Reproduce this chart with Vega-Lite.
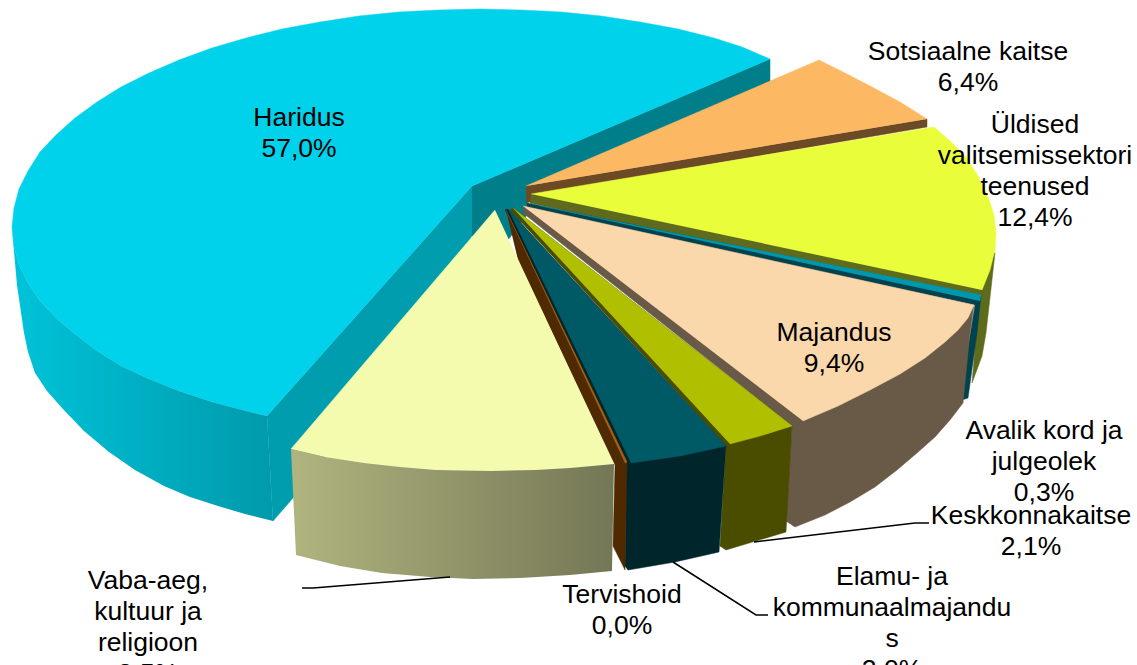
{
"$schema":"https://vega.github.io/schema/vega-lite/v6.json",
"width":1137,"height":665,"padding":0,
"autosize":{"type":"fit","contains":"padding"},
"background":"white",
"view":{"stroke":null},
"datasets":{
"shapes":[
{"part":"Haridus sisemine","seq":1,"x":472,"y":186},{"part":"Haridus sisemine","seq":2,"x":770,"y":59},{"part":"Haridus sisemine","seq":3,"x":770,"y":82},{"part":"Haridus sisemine","seq":4,"x":527,"y":186},{"part":"Haridus sisemine","seq":5,"x":527,"y":215},{"part":"Haridus sisemine","seq":6,"x":508,"y":240},{"part":"Haridus sisemine","seq":7,"x":472,"y":236},
{"part":"Haridus lõige","seq":1,"x":472,"y":186},{"part":"Haridus lõige","seq":2,"x":267,"y":416},{"part":"Haridus lõige","seq":3,"x":273,"y":521},{"part":"Haridus lõige","seq":4,"x":293,"y":498},{"part":"Haridus lõige","seq":5,"x":400,"y":360},{"part":"Haridus lõige","seq":6,"x":472,"y":236},
{"part":"Haridus","seq":1,"x":472,"y":186},{"part":"Haridus","seq":2,"x":770,"y":59},{"part":"Haridus","seq":3,"x":742,"y":47},{"part":"Haridus","seq":4,"x":714,"y":38},{"part":"Haridus","seq":5,"x":678,"y":29},{"part":"Haridus","seq":6,"x":640,"y":22},{"part":"Haridus","seq":7,"x":601,"y":16},{"part":"Haridus","seq":8,"x":561,"y":12},{"part":"Haridus","seq":9,"x":521,"y":10},{"part":"Haridus","seq":10,"x":480,"y":9},{"part":"Haridus","seq":11,"x":439,"y":10},{"part":"Haridus","seq":12,"x":399,"y":12},{"part":"Haridus","seq":13,"x":359,"y":16},{"part":"Haridus","seq":14,"x":320,"y":22},{"part":"Haridus","seq":15,"x":282,"y":29},{"part":"Haridus","seq":16,"x":246,"y":38},{"part":"Haridus","seq":17,"x":212,"y":48},{"part":"Haridus","seq":18,"x":179,"y":60},{"part":"Haridus","seq":19,"x":149,"y":73},{"part":"Haridus","seq":20,"x":121,"y":87},{"part":"Haridus","seq":21,"x":97,"y":102},{"part":"Haridus","seq":22,"x":75,"y":118},{"part":"Haridus","seq":23,"x":56,"y":135},{"part":"Haridus","seq":24,"x":40,"y":152},{"part":"Haridus","seq":25,"x":28,"y":171},{"part":"Haridus","seq":26,"x":19,"y":189},{"part":"Haridus","seq":27,"x":14,"y":208},{"part":"Haridus","seq":28,"x":12,"y":227},{"part":"Haridus","seq":29,"x":14,"y":246},{"part":"Haridus","seq":30,"x":19,"y":265},{"part":"Haridus","seq":31,"x":28,"y":283},{"part":"Haridus","seq":32,"x":40,"y":301},{"part":"Haridus","seq":33,"x":56,"y":318},{"part":"Haridus","seq":34,"x":75,"y":334},{"part":"Haridus","seq":35,"x":97,"y":351},{"part":"Haridus","seq":36,"x":121,"y":366},{"part":"Haridus","seq":37,"x":149,"y":379},{"part":"Haridus","seq":38,"x":179,"y":391},{"part":"Haridus","seq":39,"x":212,"y":402},{"part":"Haridus","seq":40,"x":246,"y":411},{"part":"Haridus","seq":41,"x":267,"y":416},
{"part":"Sotsiaalne külg","seq":1,"x":526,"y":186},{"part":"Sotsiaalne külg","seq":2,"x":927,"y":119},{"part":"Sotsiaalne külg","seq":3,"x":927,"y":127},{"part":"Sotsiaalne külg","seq":4,"x":600,"y":183},{"part":"Sotsiaalne külg","seq":5,"x":526,"y":203},
{"part":"Sotsiaalne","seq":1,"x":526,"y":186},{"part":"Sotsiaalne","seq":2,"x":819,"y":60},{"part":"Sotsiaalne","seq":3,"x":845,"y":73},{"part":"Sotsiaalne","seq":4,"x":872,"y":87},{"part":"Sotsiaalne","seq":5,"x":900,"y":102},{"part":"Sotsiaalne","seq":6,"x":927,"y":119},
{"part":"Üldised külg","seq":1,"x":531,"y":194},{"part":"Üldised külg","seq":2,"x":995,"y":253},{"part":"Üldised külg","seq":3,"x":986,"y":333},{"part":"Üldised külg","seq":4,"x":982,"y":356},{"part":"Üldised külg","seq":5,"x":972,"y":383},{"part":"Üldised külg","seq":6,"x":979,"y":300},{"part":"Üldised külg","seq":7,"x":530,"y":203},
{"part":"Üldised","seq":1,"x":531,"y":194},{"part":"Üldised","seq":2,"x":934,"y":127},{"part":"Üldised","seq":3,"x":950,"y":141},{"part":"Üldised","seq":4,"x":966,"y":157},{"part":"Üldised","seq":5,"x":978,"y":176},{"part":"Üldised","seq":6,"x":988,"y":197},{"part":"Üldised","seq":7,"x":994,"y":215},{"part":"Üldised","seq":8,"x":996,"y":233},{"part":"Üldised","seq":9,"x":995,"y":250},{"part":"Üldised","seq":10,"x":990,"y":270},{"part":"Üldised","seq":11,"x":982,"y":290},
{"part":"Avalik külg","seq":1,"x":527,"y":203},{"part":"Avalik külg","seq":2,"x":981,"y":296},{"part":"Avalik külg","seq":3,"x":977,"y":333},{"part":"Avalik külg","seq":4,"x":968,"y":398},{"part":"Avalik külg","seq":5,"x":962,"y":400},{"part":"Avalik külg","seq":6,"x":966,"y":360},{"part":"Avalik külg","seq":7,"x":975,"y":305},{"part":"Avalik külg","seq":8,"x":527,"y":209},
{"part":"Avalik","seq":1,"x":540,"y":206},{"part":"Avalik","seq":2,"x":981,"y":295},{"part":"Avalik","seq":3,"x":980,"y":301},
{"part":"Majandus külg","seq":1,"x":523,"y":206},{"part":"Majandus külg","seq":2,"x":974,"y":305},{"part":"Majandus külg","seq":3,"x":970,"y":333},{"part":"Majandus külg","seq":4,"x":963,"y":403},{"part":"Majandus külg","seq":5,"x":950,"y":420},{"part":"Majandus külg","seq":6,"x":935,"y":437},{"part":"Majandus külg","seq":7,"x":917,"y":453},{"part":"Majandus külg","seq":8,"x":897,"y":470},{"part":"Majandus külg","seq":9,"x":875,"y":487},{"part":"Majandus külg","seq":10,"x":850,"y":502},{"part":"Majandus külg","seq":11,"x":825,"y":515},{"part":"Majandus külg","seq":12,"x":795,"y":527},{"part":"Majandus külg","seq":13,"x":786,"y":521},{"part":"Majandus külg","seq":14,"x":792,"y":426},{"part":"Majandus külg","seq":15,"x":523,"y":213},
{"part":"Majandus","seq":1,"x":523,"y":206},{"part":"Majandus","seq":2,"x":974,"y":305},{"part":"Majandus","seq":3,"x":968,"y":318},{"part":"Majandus","seq":4,"x":958,"y":330},{"part":"Majandus","seq":5,"x":945,"y":342},{"part":"Majandus","seq":6,"x":925,"y":358},{"part":"Majandus","seq":7,"x":900,"y":374},{"part":"Majandus","seq":8,"x":870,"y":390},{"part":"Majandus","seq":9,"x":838,"y":406},{"part":"Majandus","seq":10,"x":803,"y":421},
{"part":"Keskkonna külg","seq":1,"x":510,"y":210},{"part":"Keskkonna külg","seq":2,"x":513,"y":208},{"part":"Keskkonna külg","seq":3,"x":792,"y":426},{"part":"Keskkonna külg","seq":4,"x":786,"y":532},{"part":"Keskkonna külg","seq":5,"x":726,"y":550},{"part":"Keskkonna külg","seq":6,"x":720,"y":546},{"part":"Keskkonna külg","seq":7,"x":726,"y":446},
{"part":"Keskkonna","seq":1,"x":513,"y":208},{"part":"Keskkonna","seq":2,"x":792,"y":426},{"part":"Keskkonna","seq":3,"x":760,"y":436},{"part":"Keskkonna","seq":4,"x":730,"y":444},
{"part":"Elamu külg","seq":1,"x":505,"y":210},{"part":"Elamu külg","seq":2,"x":508,"y":209},{"part":"Elamu külg","seq":3,"x":726,"y":446},{"part":"Elamu külg","seq":4,"x":719,"y":552},{"part":"Elamu külg","seq":5,"x":675,"y":562},{"part":"Elamu külg","seq":6,"x":628,"y":570},{"part":"Elamu külg","seq":7,"x":625,"y":566},{"part":"Elamu külg","seq":8,"x":626,"y":463},
{"part":"Elamu","seq":1,"x":508,"y":209},{"part":"Elamu","seq":2,"x":726,"y":446},{"part":"Elamu","seq":3,"x":680,"y":456},{"part":"Elamu","seq":4,"x":631,"y":463},
{"part":"Tervishoid","seq":1,"x":506,"y":210},{"part":"Tervishoid","seq":2,"x":627,"y":463},{"part":"Tervishoid","seq":3,"x":625,"y":570},{"part":"Tervishoid","seq":4,"x":613,"y":546},{"part":"Tervishoid","seq":5,"x":615,"y":465},{"part":"Tervishoid","seq":6,"x":518,"y":260},
{"part":"Tervishoid serv","seq":1,"x":506,"y":210},{"part":"Tervishoid serv","seq":2,"x":627,"y":462},{"part":"Tervishoid serv","seq":3,"x":625,"y":463},
{"part":"Vaba-aeg","seq":1,"x":495,"y":210},{"part":"Vaba-aeg","seq":2,"x":291,"y":449},{"part":"Vaba-aeg","seq":3,"x":325,"y":457},{"part":"Vaba-aeg","seq":4,"x":364,"y":463},{"part":"Vaba-aeg","seq":5,"x":400,"y":467},{"part":"Vaba-aeg","seq":6,"x":436,"y":470},{"part":"Vaba-aeg","seq":7,"x":491,"y":471},{"part":"Vaba-aeg","seq":8,"x":535,"y":470},{"part":"Vaba-aeg","seq":9,"x":570,"y":468},{"part":"Vaba-aeg","seq":10,"x":614,"y":464},
{"part":"Haridus väline","seq":1,"x":12,"y":227},{"part":"Haridus väline","seq":2,"x":14,"y":246},{"part":"Haridus väline","seq":3,"x":19,"y":265},{"part":"Haridus väline","seq":4,"x":28,"y":283},{"part":"Haridus väline","seq":5,"x":40,"y":301},{"part":"Haridus väline","seq":6,"x":56,"y":318},{"part":"Haridus väline","seq":7,"x":75,"y":334},{"part":"Haridus väline","seq":8,"x":97,"y":351},{"part":"Haridus väline","seq":9,"x":121,"y":366},{"part":"Haridus väline","seq":10,"x":149,"y":379},{"part":"Haridus väline","seq":11,"x":179,"y":391},{"part":"Haridus väline","seq":12,"x":212,"y":402},{"part":"Haridus väline","seq":13,"x":246,"y":411},{"part":"Haridus väline","seq":14,"x":267,"y":416},{"part":"Haridus väline","seq":15,"x":273,"y":521},{"part":"Haridus väline","seq":16,"x":245,"y":514},{"part":"Haridus väline","seq":17,"x":218,"y":506},{"part":"Haridus väline","seq":18,"x":190,"y":497},{"part":"Haridus väline","seq":19,"x":164,"y":486},{"part":"Haridus väline","seq":20,"x":135,"y":470},{"part":"Haridus väline","seq":21,"x":109,"y":452},{"part":"Haridus väline","seq":22,"x":84,"y":431},{"part":"Haridus väline","seq":23,"x":62,"y":408},{"part":"Haridus väline","seq":24,"x":47,"y":391},{"part":"Haridus väline","seq":25,"x":35,"y":373},{"part":"Haridus väline","seq":26,"x":28,"y":352},{"part":"Haridus väline","seq":27,"x":24,"y":333},{"part":"Haridus väline","seq":28,"x":17,"y":285},{"part":"Haridus väline","seq":29,"x":13,"y":240},
{"part":"Vaba-aeg väline","seq":1,"x":291,"y":449},{"part":"Vaba-aeg väline","seq":2,"x":325,"y":457},{"part":"Vaba-aeg väline","seq":3,"x":364,"y":463},{"part":"Vaba-aeg väline","seq":4,"x":400,"y":467},{"part":"Vaba-aeg väline","seq":5,"x":436,"y":470},{"part":"Vaba-aeg väline","seq":6,"x":491,"y":471},{"part":"Vaba-aeg väline","seq":7,"x":535,"y":470},{"part":"Vaba-aeg väline","seq":8,"x":570,"y":468},{"part":"Vaba-aeg väline","seq":9,"x":614,"y":464},{"part":"Vaba-aeg väline","seq":10,"x":612,"y":571},{"part":"Vaba-aeg väline","seq":11,"x":570,"y":575},{"part":"Vaba-aeg väline","seq":12,"x":520,"y":578},{"part":"Vaba-aeg väline","seq":13,"x":473,"y":579},{"part":"Vaba-aeg väline","seq":14,"x":430,"y":577},{"part":"Vaba-aeg väline","seq":15,"x":382,"y":573},{"part":"Vaba-aeg väline","seq":16,"x":340,"y":566},{"part":"Vaba-aeg väline","seq":17,"x":296,"y":555}
],
"leaders":[
{"name":"Keskkonnakaitse","seq":1,"x":754,"y":542},{"name":"Keskkonnakaitse","seq":2,"x":915,"y":523},{"name":"Keskkonnakaitse","seq":3,"x":929,"y":523},
{"name":"Elamu","seq":1,"x":673,"y":562},{"name":"Elamu","seq":2,"x":756,"y":615},{"name":"Elamu","seq":3,"x":768,"y":615},
{"name":"Vaba-aeg","seq":1,"x":450,"y":577},{"name":"Vaba-aeg","seq":2,"x":313,"y":588},{"name":"Vaba-aeg","seq":3,"x":302,"y":588}
],
"labels":[
{"label":"Haridus\n57,0%","x":299,"y":118},
{"label":"Sotsiaalne kaitse\n6,4%","x":968,"y":52},
{"label":"Üldised\nvalitsemissektori\nteenused\n12,4%","x":1035,"y":125},
{"label":"Majandus\n9,4%","x":834,"y":333},
{"label":"Avalik kord ja\njulgeolek\n0,3%","x":1044,"y":431},
{"label":"Keskkonnakaitse\n2,1%","x":1031,"y":516},
{"label":"Elamu- ja\nkommunaalmajandu\ns\n2,0%","x":892,"y":577},
{"label":"Tervishoid\n0,0%","x":622,"y":595},
{"label":"Vaba-aeg,\nkultuur ja\nreligioon\n8,5%","x":148,"y":581}
]
},
"encoding":{
"x":{"field":"x","type":"quantitative","axis":null,"scale":{"domain":[0,1137],"nice":false,"zero":false}},
"y":{"field":"y","type":"quantitative","axis":null,"scale":{"domain":[665,0],"nice":false,"zero":false}}
},
"layer":[
{"data":{"name":"shapes"},
 "transform":[{"filter":"datum.part !== 'Haridus väline' && datum.part !== 'Vaba-aeg väline'"}],
 "mark":{"type":"line","filled":true,"strokeWidth":0.5,"clip":true},
 "encoding":{
  "order":{"field":"seq","type":"quantitative"},
  "detail":{"field":"part"},
  "fill":{"field":"part","type":"nominal","legend":null,"scale":{
    "domain":["Haridus sisemine","Haridus lõige","Haridus","Sotsiaalne külg","Sotsiaalne","Üldised külg","Üldised","Avalik külg","Avalik","Majandus külg","Majandus","Keskkonna külg","Keskkonna","Elamu külg","Elamu","Tervishoid","Tervishoid serv","Vaba-aeg"],
    "range":["#007E8A","#009DAE","#00D2EC","#6B4A25","#FDB863","#5E6B1C","#EAFD3A","#00434F","#0096AB","#695A47","#FBD7AC","#4A4D00","#B0C000","#00262B","#005A66","#4F2A00","#A85F10","#F4FBAE"]}},
  "stroke":{"field":"part","type":"nominal","legend":null,"scale":{
    "domain":["Haridus sisemine","Haridus lõige","Haridus","Sotsiaalne külg","Sotsiaalne","Üldised külg","Üldised","Avalik külg","Avalik","Majandus külg","Majandus","Keskkonna külg","Keskkonna","Elamu külg","Elamu","Tervishoid","Tervishoid serv","Vaba-aeg"],
    "range":["#007E8A","#009DAE","#00D2EC","#6B4A25","#FDB863","#5E6B1C","#EAFD3A","#00434F","#0096AB","#695A47","#FBD7AC","#4A4D00","#B0C000","#00262B","#005A66","#4F2A00","#A85F10","#F4FBAE"]}}
 }},
{"data":{"name":"shapes"},
 "transform":[{"filter":"datum.part === 'Haridus väline'"}],
 "mark":{"type":"line","filled":true,"stroke":null,"fill":{"gradient":"linear","x1":0,"y1":0,"x2":1,"y2":0,"stops":[{"offset":0,"color":"#00C3D9"},{"offset":1,"color":"#009AAB"}]}},
 "encoding":{"order":{"field":"seq","type":"quantitative"}}},
{"data":{"name":"shapes"},
 "transform":[{"filter":"datum.part === 'Vaba-aeg väline'"}],
 "mark":{"type":"line","filled":true,"stroke":null,"fill":{"gradient":"linear","x1":0,"y1":0,"x2":1,"y2":0,"stops":[{"offset":0,"color":"#B0B47E"},{"offset":1,"color":"#747755"}]}},
 "encoding":{"order":{"field":"seq","type":"quantitative"}}},
{"data":{"name":"leaders"},
 "mark":{"type":"line","stroke":"#000000","strokeWidth":1.5},
 "encoding":{"order":{"field":"seq","type":"quantitative"},"detail":{"field":"name"}}},
{"data":{"name":"labels"},
 "mark":{"type":"text","font":"Liberation Sans","fontSize":26.5,"color":"#000000","align":"center","baseline":"middle","lineBreak":"\n","lineHeight":31,"clip":true},
 "encoding":{"text":{"field":"label"}}}
]
}
